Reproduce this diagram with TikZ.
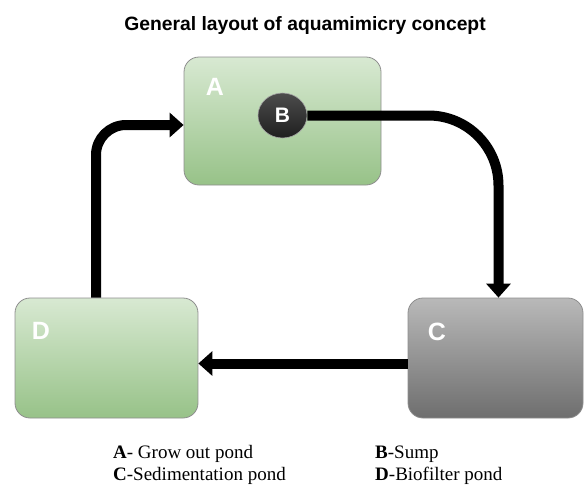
\documentclass[tikz,border=0pt]{standalone}
\usepackage{fontspec}
\setmainfont{Liberation Serif}
\setsansfont{Liberation Sans}
\usetikzlibrary{arrows.meta,shapes.geometric}
\definecolor{gtop}{HTML}{D8E9D2}
\definecolor{gbot}{HTML}{97C288}
\definecolor{ctop}{HTML}{B9B9B9}
\definecolor{cbot}{HTML}{6E6E6E}
\definecolor{edge}{HTML}{8E8E8E}
\tikzset{
  pond/.style={draw=edge, line width=0.8pt, rounded corners=15pt, inner sep=0pt},
  greenpond/.style={pond, top color=gtop, bottom color=gbot},
  greypond/.style={pond, top color=ctop, bottom color=cbot},
  lab/.style={text=white, font=\sffamily\bfseries\fontsize{25}{28}\selectfont, inner sep=0pt},
  flow/.style={line width=10pt, draw=black, -{Triangle[width=24pt,length=14pt]}},
  legend/.style={anchor=base west, inner sep=0pt, font=\fontsize{19}{20}\selectfont},
}
\begin{document}
\begin{tikzpicture}[x=1pt,y=-1pt]
\useasboundingbox (0,0) rectangle (584,485);
\node[font=\sffamily\bfseries\fontsize{19.3}{22}\selectfont, inner sep=0pt] (title) at (305,26) {General layout of aquamimicry concept};
% ponds
\node[greenpond, minimum width=197pt, minimum height=128pt] (A) at (282.5,121) {};
\node[greypond, minimum width=175pt, minimum height=120pt] (C) at (495.5,358) {};
\node[greenpond, minimum width=183pt, minimum height=120pt] (D) at (106.5,358) {};
% sump
\node[ellipse, draw=gray!70, line width=0.6pt, top color=black!70, bottom color=black!88, minimum width=49pt, minimum height=45pt, inner sep=0pt] (B) at (282.5,115.5) {};
\node[text=white, font=\sffamily\bfseries\fontsize{21}{22}\selectfont, inner sep=0pt] (lb) at (B) {B};
% labels
\node[lab] (la) at (215,87) {A};
\node[lab] (lc) at (437,332) {C};
\node[lab] (ld) at (41,331) {D};
% connectors
\draw[flow, rounded corners=70pt] (B.east) -| ([xshift=3pt]C.north);
\draw[flow] ([yshift=-5.5pt]C.west) -- ([yshift=-5.5pt]D.east);
\draw[flow, rounded corners=30pt] ([xshift=-10.5pt]D.north) |- ([yshift=-4pt]A.west);
% legend
\node[legend] (l1) at (113,458.5) {\textbf{A}- Grow out pond};
\node[legend] (l2) at (113,480) {\textbf{C}-Sedimentation pond};
\node[legend] (l3) at (375,458.5) {\textbf{B}-Sump};
\node[legend] (l4) at (375,480) {\textbf{D}-Biofilter pond};
\end{tikzpicture}
\end{document}
